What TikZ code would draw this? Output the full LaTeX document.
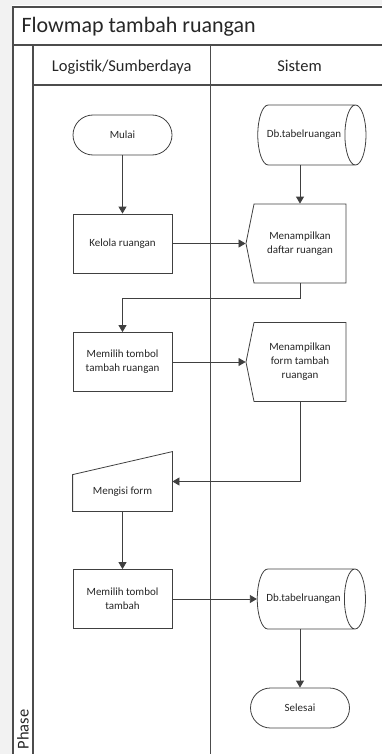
\documentclass[tikz,border=0pt]{standalone}
\usepackage{fontspec}
\setmainfont{Carlito}
\usetikzlibrary{shapes.geometric,shapes.symbols,arrows.meta,calc}

\begin{document}
\begin{tikzpicture}[x=1pt,y=-1pt,
  every node/.style={text=black!85},
  lane/.style={gray!60!black, line width=1.2pt},
  process/.style={rectangle, draw, minimum width=99pt, minimum height=59pt, align=center, font=\fontsize{11}{14}\selectfont},
  terminal/.style={rectangle, rounded corners=20pt, draw, minimum width=99pt, minimum height=40pt, font=\fontsize{11}{14}\selectfont},
  display/.style={signal, signal to=west, signal pointer angle=157, draw, minimum width=100pt, minimum height=79pt, align=center, font=\fontsize{11}{14}\selectfont},
  database/.style={cylinder, draw, shape aspect=1.3, minimum width=60pt, minimum height=106pt, font=\fontsize{11}{14}\selectfont},
  inputbox/.style={rectangle, minimum width=99pt, minimum height=59pt},
  flow/.style={-{Triangle[length=7pt,width=8pt]}}
]
\useasboundingbox (0,0) rectangle (382,754);
\clip (0,0) rectangle (382,754);
\fill[black!5] (0,0) rectangle (382,5);
\fill[black!5] (0,0) rectangle (12,754);

% swimlanes
\draw[lane] (13,7) rectangle (388,760);
\draw[lane] (13,45) -- (388,45);
\draw[lane] (33,45) -- (33,760);
\draw[lane] (33,85) -- (388,85);
\draw[lane] (210.5,45) -- (210.5,760);
\draw (18,33) node(title) [anchor=base west, font=\fontsize{22}{26}\selectfont] {Flowmap tambah ruangan};
\draw (121.75,71.5) node(logistik) [anchor=base, font=\fontsize{16.5}{20}\selectfont] {Logistik/Sumberdaya};
\draw (299.5,71.5) node(sistem) [anchor=base, font=\fontsize{16.5}{20}\selectfont] {Sistem};
\draw (28.5,753) node(phase) [rotate=90, anchor=base west, font=\fontsize{16.5}{20}\selectfont] {Phase};

\begin{scope}[black!75, line width=0.8pt]
% logistik
\draw (122.5,135) node(mulai) [terminal] {Mulai};
\draw (122.5,243.5) node(kelola) [process] {Kelola ruangan};
\draw (122.5,362) node(tombolruangan) [process] {Memilih tombol\\tambah ruangan};
\draw (122.5,481.5) node(mengisi) [inputbox] {};
\draw (mengisi.south west) -- (mengisi.south east) -- (mengisi.north east) -- ($(mengisi.north west)+(0,23)$) -- cycle;
\draw (122.5,492) node(mengisilabel) [font=\fontsize{11}{14}\selectfont] {Mengisi form};
\draw (122.5,599) node(tomboltambah) [process] {Memilih tombol\\tambah};

% sistem
\draw (304,135) node(dbawal) [database] {Db.tabelruangan};
\draw (300,243.5) node(daftar) [display] {Menampilkan\\daftar ruangan};
\draw (300,362) node(form) [display] {Menampilkan\\form tambah\\ruangan};
\draw (303.5,599) node(dbakhir) [database] {Db.tabelruangan};
\draw (300,708) node(selesai) [terminal] {Selesai};

% alur
\draw[flow] (mulai) -- (kelola);
\draw[flow] (daftar.north |- dbawal.south) -- (daftar.north);
\draw[flow] (kelola.east) -- (daftar.west);
\draw[flow] (daftar.south) |- (122.5,298) -- (tombolruangan.north);
\draw[flow] (tombolruangan.east) -- (form.west);
\draw[flow] (form.south) |- (mengisi.east);
\draw[flow] (mengisi.south) -- (tomboltambah.north);
\draw[flow] (tomboltambah.east) -- (dbakhir.west);
\draw[flow] (selesai.north |- dbakhir.south) -- (selesai.north);
\end{scope}
\end{tikzpicture}
\end{document}
